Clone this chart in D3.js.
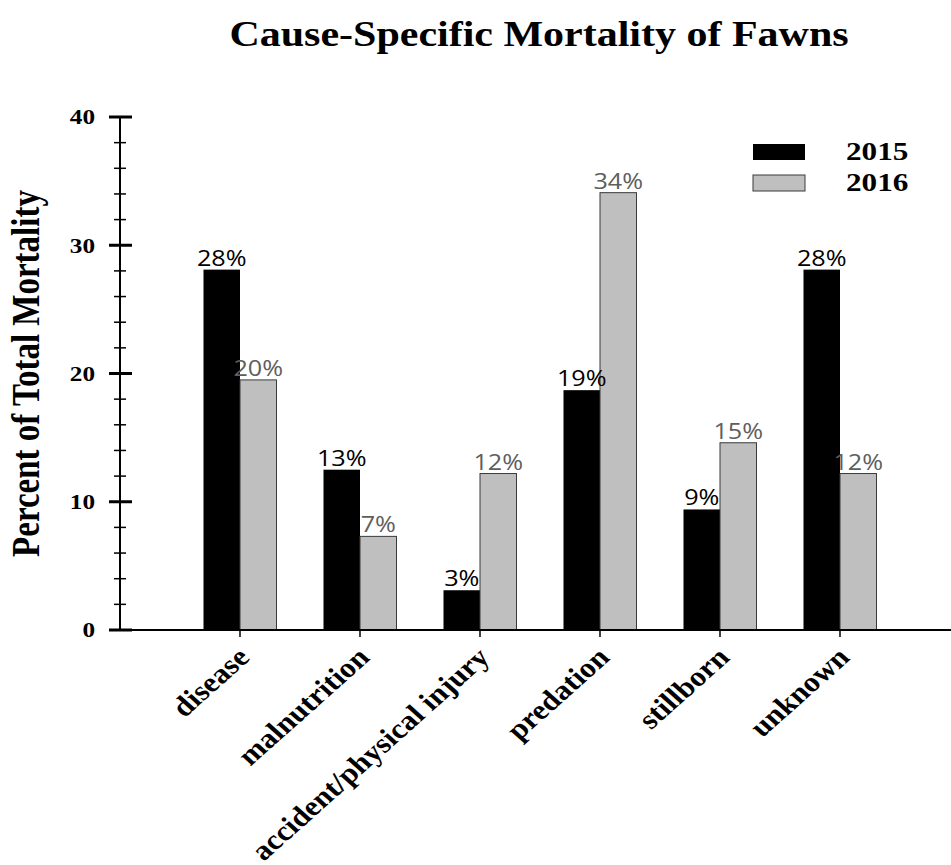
<!DOCTYPE html>
<html>
<head>
<meta charset="utf-8">
<script src="https://cdn.jsdelivr.net/npm/d3@7"></script>
<style>
  body { margin: 0; background: #fff; }
  svg { display: block; }
</style>
</head>
<body>
<svg id="chart" width="951" height="865"></svg>
<script>
// Cause-specific mortality of fawns, 2015 vs 2016

const causes = ['disease', 'malnutrition', 'accident/physical injury', 'predation', 'stillborn', 'unknown'];
const years = ['2015', '2016'];
const values2015 = [28.1, 12.5, 3.1, 18.7, 9.4, 28.1];
const values2016 = [19.5, 7.3, 12.2, 34.1, 14.6, 12.2];
const labels2015 = ['28%', '13%', '3%', '19%', '9%', '28%'];
const labels2016 = ['20%', '7%', '12%', '34%', '15%', '12%'];
const yTicks = [0, 10, 20, 30, 40];

const fills = { '2015': '#000000', '2016': '#bfbfbf' };
const labelColors = { '2015': '#000000', '2016': '#5e5e5e' };

const serif = '"Liberation Serif", "Times New Roman", serif';
// the original figure is a bit wider than tall, so text is stretched sideways
const sx = 1.2;
const sxCat = 1.12;

const svg = d3.select('#chart');

const x0 = d3.scaleBand()
    .domain(causes)
    .range([180, 900]);

const barW = 36.5;
const x1 = d3.scaleBand()
    .domain(years)
    .range([-barW, barW]);

const y = d3.scaleLinear()
    .domain([0, 40])
    .range([630, 117]);

// rows for the bars
const rows = [];
causes.forEach((c, i) => {
    rows.push({ cause: c, year: '2015', value: values2015[i], label: labels2015[i] });
    rows.push({ cause: c, year: '2016', value: values2016[i], label: labels2016[i] });
});

const center = c => x0(c) + x0.bandwidth() / 2;

// Bars
svg.append('g')
    .selectAll('rect')
    .data(rows)
    .join('rect')
    .attr('x', d => center(d.cause) + x1(d.year))
    .attr('y', d => y(d.value))
    .attr('width', x1.bandwidth())
    .attr('height', d => y(0) - y(d.value))
    .attr('fill', d => fills[d.year])
    .attr('stroke', d => d.year === '2016' ? '#3a3a3a' : 'none')
    .attr('stroke-width', 1);

// Value labels
svg.append('g')
    .selectAll('text')
    .data(rows)
    .join('text')
    .attr('transform', d => `translate(${center(d.cause) + x1(d.year) + x1.bandwidth() / 2},${y(d.value) - 4}) scale(${sx},1)`)
    .attr('text-anchor', 'middle')
    .attr('font-family', '"Open Sans", "Noto Sans", sans-serif')
    .attr('font-size', 21)
    .attr('fill', d => labelColors[d.year])
    .text(d => d.label);

// Y axis
const yAxis = svg.append('g')
    .attr('transform', 'translate(120,0)');

yAxis.append('line')
    .attr('x1', 0).attr('x2', 0)
    .attr('y1', y(40)).attr('y2', y(0))
    .attr('stroke', '#000').attr('stroke-width', 2);

// minor ticks every 2
yAxis.selectAll('.minor')
    .data(d3.range(0, 41, 2).filter(v => v % 10 !== 0))
    .join('line')
    .attr('class', 'minor')
    .attr('x1', -6).attr('x2', 6)
    .attr('y1', d => y(d)).attr('y2', d => y(d))
    .attr('stroke', '#000').attr('stroke-width', 1.5);

yAxis.selectAll('.major')
    .data(yTicks)
    .join('line')
    .attr('class', 'major')
    .attr('x1', -11).attr('x2', 12)
    .attr('y1', d => y(d)).attr('y2', d => y(d))
    .attr('stroke', '#000').attr('stroke-width', 3);

yAxis.selectAll('text')
    .data(yTicks)
    .join('text')
    .attr('transform', d => `translate(-25,${y(d)}) scale(${sx},1)`)
    .attr('dy', '0.35em')
    .attr('text-anchor', 'end')
    .attr('font-family', serif)
    .attr('font-weight', 'bold')
    .attr('font-size', 21)
    .text(d => d);

// X axis
const xAxis = svg.append('g')
    .attr('transform', `translate(0,${y(0)})`);

xAxis.append('line')
    .attr('x1', 120).attr('x2', 951)
    .attr('y1', 0).attr('y2', 0)
    .attr('stroke', '#000').attr('stroke-width', 2);

xAxis.selectAll('.tick')
    .data(causes)
    .join('line')
    .attr('class', 'tick')
    .attr('x1', d => center(d)).attr('x2', d => center(d))
    .attr('y1', 0).attr('y2', 7)
    .attr('stroke', '#000').attr('stroke-width', 1.5);

xAxis.selectAll('text')
    .data(causes)
    .join('text')
    .attr('transform', d => `translate(${center(d) + 11},${29}) scale(${sxCat},1) rotate(-45)`)
    .attr('text-anchor', 'end')
    .attr('font-family', serif)
    .attr('font-weight', 'bold')
    .attr('font-size', 28)
    .text(d => d);

// Y axis title
svg.append('text')
    .attr('transform', `translate(39,${y(20)}) scale(${sx},1) rotate(-90)`)
    .attr('text-anchor', 'middle')
    .attr('font-family', serif)
    .attr('font-weight', 'bold')
    .attr('font-size', 33)
    .text('Percent of Total Mortality');

// Title
svg.append('text')
    .attr('transform', `translate(539,46) scale(${sx},1)`)
    .attr('text-anchor', 'middle')
    .attr('font-family', serif)
    .attr('font-weight', 'bold')
    .attr('font-size', 35)
    .text('Cause-Specific Mortality of Fawns');

// Legend
const legend = svg.append('g')
    .selectAll('g')
    .data(years)
    .join('g')
    .attr('transform', (d, i) => `translate(753,${144 + i * 31})`);

legend.append('rect')
    .attr('width', 52)
    .attr('height', 16)
    .attr('fill', d => fills[d])
    .attr('stroke', d => d === '2016' ? '#3a3a3a' : 'none');

legend.append('text')
    .attr('transform', `translate(93,16) scale(${sx},1)`)
    .attr('font-family', serif)
    .attr('font-weight', 'bold')
    .attr('font-size', 26)
    .text(d => d);
</script>
</body>
</html>
